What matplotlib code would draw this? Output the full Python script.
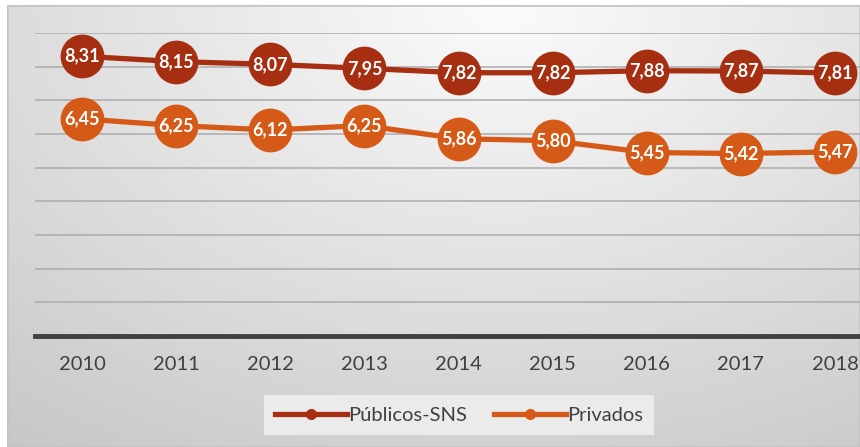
import matplotlib
matplotlib.use("Agg")
import matplotlib.pyplot as plt
import numpy as np
from matplotlib.patches import Rectangle

YEARS = ["2010", "2011", "2012", "2013", "2014", "2015", "2016", "2017", "2018"]
PUBLICOS = [8.31, 8.15, 8.07, 7.95, 7.82, 7.82, 7.88, 7.87, 7.81]
PRIVADOS = [6.45, 6.25, 6.12, 6.25, 5.86, 5.80, 5.45, 5.42, 5.47]
SERIES = [
    ("Públicos-SNS", PUBLICOS, "#A52F10"),
    ("Privados", PRIVADOS, "#D65A17"),
]

W, H = 860, 447
plt.rcParams["font.family"] = ["Lato", "DejaVu Sans"]

fig = plt.figure(figsize=(W / 100, H / 100), dpi=100)
fig.patch.set_facecolor("white")

# gradient chart background (Office style)
bg = fig.add_axes([7 / W, 0, 1 - 7 / W, 1 - 5 / H])
yy, xx = np.mgrid[0:1:200j, 0:1:400j]
r = np.sqrt((xx - 0.58) ** 2 + ((yy - 0.0) * 0.78) ** 2)
shade = np.clip(0.985 - 0.21 * r, 0.78, 0.985)
bg.imshow(np.dstack([shade] * 3), aspect="auto", extent=[0, 1, 1, 0])
bg.set_axis_off()
bg.add_patch(Rectangle((0, 0), 1, 1, transform=bg.transAxes, fill=False,
                       edgecolor="#c4c4c4", linewidth=1.8))

x0, x1 = 35, 882
y_top, y_bot = 33, 336
ax = fig.add_axes([x0 / W, 1 - y_bot / H, (x1 - x0) / W, (y_bot - y_top) / H])
ax.patch.set_alpha(0)
x = np.arange(len(YEARS))
ax.set_xlim(-0.5, len(YEARS) - 0.5)
ax.set_ylim(0, 9)
ax.set_yticks(np.arange(1, 10))
ax.yaxis.grid(True, color="#ababab", linewidth=1.1)
ax.set_axisbelow(True)
ax.tick_params(axis="y", left=False, labelleft=False)
ax.tick_params(axis="x", bottom=False, labelsize=14.5, labelcolor="#404040", pad=11)
ax.set_xticks(x)
ax.set_xticklabels(YEARS)
for s in ["top", "right", "left"]:
    ax.spines[s].set_visible(False)
ax.spines["bottom"].set_color("#404040")
ax.spines["bottom"].set_linewidth(3.5)

for name, vals, color in SERIES:
    ax.plot(x, vals, color=color, linewidth=3.8, marker="o", markersize=30.5,
            markeredgecolor=color, label=name, clip_on=False, zorder=3)
    for xi, v in zip(x, vals):
        ax.text(xi, v, f"{v:.2f}".replace(".", ","), ha="center", va="center",
                color="white", fontsize=13, fontweight="bold", zorder=4)

handles = [plt.Line2D([], [], color=c, linewidth=3.8, marker="o", markersize=7)
           for _, _, c in SERIES]
leg = fig.legend(handles, [n for n, _, _ in SERIES], loc="center",
                 bbox_to_anchor=(459 / W, 1 - 415 / H), ncol=2, frameon=True,
                 fontsize=14.5, handlelength=3.6, handletextpad=0.05,
                 columnspacing=1.3, borderpad=0.55, borderaxespad=0, fancybox=False)
leg.get_frame().set_facecolor("#ebebeb")
leg.get_frame().set_edgecolor("none")
leg.get_frame().set_alpha(1)
for t in leg.get_texts():
    t.set_color("#404040")

fig.savefig("out.png", dpi=100)
